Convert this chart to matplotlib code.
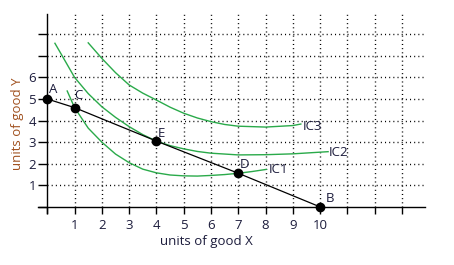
import matplotlib
matplotlib.use("Agg")
import matplotlib.pyplot as plt

plt.rcParams['font.family'] = ['Open Sans', 'DejaVu Sans']

# Budget line points
pt_names = ['A', 'C', 'E', 'D', 'B']
pt_x = [0, 1, 4, 7, 10]
pt_y = [5, 4.6, 3.05, 1.56, 0]
lbl_x = [0.07, 1.0, 4.06, 7.06, 10.2]
lbl_y = [5.46, 5.14, 3.4, 1.98, 0.38]

# Indifference curves
ic1_x = [0.73, 1, 1.5, 2, 2.5, 3, 3.5, 4, 4.5, 5, 5.5, 6, 6.5, 7, 7.5, 8.03]
ic1_y = [5.37, 4.6, 3.65, 3.0, 2.45, 2.05, 1.75, 1.58, 1.48, 1.44, 1.43, 1.46, 1.5, 1.56, 1.64, 1.74]
ic2_x = [0.28, 0.5, 1, 1.5, 2, 2.5, 3, 3.5, 4, 4.5, 5, 5.5, 6, 7, 8, 9, 10.29]
ic2_y = [7.58, 7.1, 6.0, 5.25, 4.64, 4.15, 3.72, 3.35, 3.05, 2.84, 2.69, 2.57, 2.49, 2.41, 2.42, 2.46, 2.56]
ic3_x = [1.5, 2, 2.5, 3, 3.5, 4, 4.5, 5, 5.5, 6, 6.5, 7, 8, 9, 9.29]
ic3_y = [7.6, 6.88, 6.22, 5.65, 5.27, 4.95, 4.62, 4.34, 4.12, 3.95, 3.82, 3.74, 3.70, 3.77, 3.84]
ic_labels = ['IC1', 'IC2', 'IC3']
ic_lbl_x = [8.1, 10.3, 9.37]
ic_lbl_y = [1.72, 2.54, 3.72]

x_ticks = list(range(0, 14))
x_ticklabels = ['' if (t == 0 or t > 10) else str(t) for t in x_ticks]
y_ticks = list(range(0, 9))
y_ticklabels = ['' if (t == 0 or t > 6) else str(t) for t in y_ticks]

text_color = '#1c1c3c'
green = '#2aaa4a'
fs = 9.5

fig = plt.figure(figsize=(4.54, 2.65), dpi=100)
ax = fig.add_axes([38 / 454, 52 / 265, 387 / 454, 199.3 / 265])
ax.set_xlim(-0.34, 13.84)
ax.set_ylim(-0.28, 8.95)

for s in ['top', 'right']:
    ax.spines[s].set_visible(False)
ax.spines['left'].set_position(('data', 0))
ax.spines['bottom'].set_position(('data', 0))
for s in ['left', 'bottom']:
    ax.spines[s].set_linewidth(1.0)
    ax.spines[s].set_color('black')

# grid
ax.vlines(x_ticks[1:], 0, 8.95, colors='black', linestyles=(0, (0.75, 2.25)), linewidth=1.0)
ax.hlines(y_ticks[1:], 0, 13.84, colors='black', linestyles=(0, (0.75, 2.25)), linewidth=1.0)

ax.set_xticks(x_ticks)
ax.set_xticklabels(x_ticklabels)
ax.set_yticks(y_ticks)
ax.set_yticklabels(y_ticklabels)
ax.tick_params(axis='x', direction='out', length=5, width=1, pad=4, labelsize=fs, labelcolor=text_color)
ax.tick_params(axis='y', direction='out', length=6.5, width=1, pad=1.5, labelsize=fs, labelcolor=text_color)

# curves
for cx, cy in [(ic1_x, ic1_y), (ic2_x, ic2_y), (ic3_x, ic3_y)]:
    ax.plot(cx, cy, color=green, linewidth=1.0, zorder=3)
for lab, lx, ly in zip(ic_labels, ic_lbl_x, ic_lbl_y):
    ax.text(lx, ly, lab, ha='left', va='center', fontsize=fs, color=text_color, zorder=5)

# budget line
ax.plot(pt_x, pt_y, color='black', linewidth=0.9, zorder=4)
ax.plot(pt_x, pt_y, 'o', color='black', markersize=6, zorder=6, clip_on=False)
for n, lx, ly in zip(pt_names, lbl_x, lbl_y):
    ax.text(lx, ly, n, ha='left', va='center', fontsize=fs, color=text_color, zorder=7)

fig.text(206 / 454, 1 - 242 / 265, 'units of good X', ha='center', va='center', fontsize=fs, color=text_color)
fig.text(18 / 454, 1 - 124 / 265, 'units of good Y', ha='center', va='center', rotation=90, fontsize=fs, color='#a0501e')

fig.savefig('out.png', dpi=100)
